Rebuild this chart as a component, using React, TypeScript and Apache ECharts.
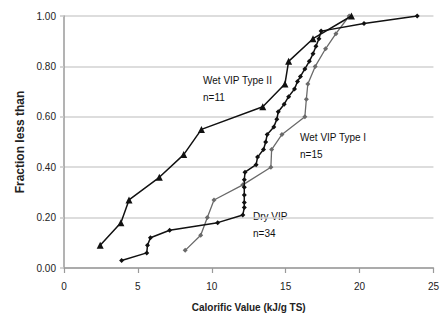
import React, { useEffect, useRef } from "react";
import * as echarts from "echarts";

const xTicks = [0, 5, 10, 15, 20, 25];
const yTicks = [0, 0.2, 0.4, 0.6, 0.8, 1.0];

const typeIIValue = [2.45, 3.85, 4.4, 6.45, 8.1, 9.3, 13.45, 14.95, 15.2, 16.85, 19.45];
const typeIIFrac = [0.09, 0.18, 0.27, 0.36, 0.45, 0.55, 0.64, 0.73, 0.82, 0.91, 1.0];

const typeIValue = [8.2, 9.25, 9.7, 10.15, 12.1, 14.0, 14.05, 14.75, 16.3, 16.4, 16.5, 17.0, 17.7, 18.4, 19.3];
const typeIFrac = [0.07, 0.13, 0.2, 0.27, 0.33, 0.4, 0.47, 0.53, 0.6, 0.67, 0.73, 0.8, 0.87, 0.93, 1.0];

const dryValue = [3.9, 5.6, 5.65, 5.85, 7.15, 10.4, 12.1, 12.2, 12.2, 12.2, 12.2, 12.2, 12.25, 13.0, 13.1, 13.5, 13.65, 13.75, 14.2, 14.4, 14.5, 14.9, 15.2, 15.6, 15.8, 16.0, 16.3, 16.6, 16.85, 17.05, 17.25, 17.4, 20.3, 23.9];
const dryFrac = [0.03, 0.06, 0.09, 0.12, 0.15, 0.18, 0.21, 0.24, 0.26, 0.29, 0.32, 0.35, 0.38, 0.41, 0.44, 0.47, 0.5, 0.53, 0.56, 0.59, 0.62, 0.65, 0.68, 0.71, 0.74, 0.76, 0.79, 0.82, 0.85, 0.88, 0.91, 0.94, 0.97, 1.0];

const labelTypeII = ["Wet VIP Type II", "n=11"];
const labelTypeI = ["Wet VIP Type I", "n=15"];
const labelDry = ["Dry VIP", "n=34"];

const pairs = (xs: number[], ys: number[]) => xs.map((x, i) => [x, ys[i]]);

const FONT = "'Liberation Sans', Arial, sans-serif";

export default function App() {
  const ref = useRef<HTMLDivElement>(null);
  useEffect(() => {
    document.body.style.margin = "0";
    const chart = echarts.init(ref.current!, null, { renderer: "svg" });
    const annot = (lines: string[], x: number, y: number) => ({
      type: "text",
      left: x,
      top: y,
      style: {
        text: lines.join("\n"),
        font: `10px ${FONT}`,
        fill: "#111",
        lineHeight: 17,
      },
    });
    chart.setOption({
      animation: false,
      backgroundColor: "#fff",
      grid: { left: 64, right: 3, top: 16, bottom: 57, containLabel: false },
      xAxis: {
        type: "value",
        min: xTicks[0],
        max: xTicks[xTicks.length - 1],
        interval: 5,
        name: "Calorific Value (kJ/g TS)",
        nameLocation: "middle",
        nameGap: 34,
        nameTextStyle: { fontFamily: FONT, fontSize: 10, fontWeight: "bold", color: "#222" },
        axisLine: { show: true, lineStyle: { color: "#9a9a9a", width: 1.5 } },
        axisTick: { show: true, length: 5, lineStyle: { color: "#9a9a9a", width: 1.2 } },
        axisLabel: {
          fontFamily: FONT,
          fontSize: 10,
          color: "#222",
          margin: 13,
          showMaxLabel: true,
          alignMaxLabel: "center",
        },
        splitLine: { show: false },
      },
      yAxis: {
        type: "value",
        min: yTicks[0],
        max: yTicks[yTicks.length - 1],
        interval: 0.2,
        name: "Fraction less than",
        nameLocation: "middle",
        nameGap: 32,
        nameTextStyle: { fontFamily: FONT, fontSize: 12, fontWeight: "bold", color: "#222" },
        axisLine: { show: true, lineStyle: { color: "#9a9a9a", width: 1.5 } },
        axisTick: { show: true, length: 4, lineStyle: { color: "#c8c8c8", width: 1.5 } },
        axisLabel: {
          fontFamily: FONT,
          fontSize: 10,
          color: "#222",
          margin: 8,
          formatter: (v: number) => v.toFixed(2),
        },
        splitLine: { show: true, lineStyle: { color: "#d2d2d2", width: 1.5 } },
      },
      series: [
        {
          name: "Wet VIP Type I",
          type: "line",
          data: pairs(typeIValue, typeIFrac),
          symbol: "diamond",
          symbolSize: 5,
          lineStyle: { color: "#6a6a6a", width: 1.3 },
          itemStyle: { color: "#6a6a6a" },
          z: 2,
        },
        {
          name: "Dry VIP",
          type: "line",
          data: pairs(dryValue, dryFrac),
          symbol: "diamond",
          symbolSize: 5,
          lineStyle: { color: "#111", width: 1.5 },
          itemStyle: { color: "#111" },
          z: 3,
        },
        {
          name: "Wet VIP Type II",
          type: "line",
          data: pairs(typeIIValue, typeIIFrac),
          symbol: "triangle",
          symbolSize: 7,
          lineStyle: { color: "#111", width: 1.5 },
          itemStyle: { color: "#111" },
          z: 4,
        },
      ],
      graphic: [
        annot(labelTypeII, 203, 72),
        annot(labelTypeI, 300, 129),
        annot(labelDry, 253, 208),
      ],
    });
    return () => chart.dispose();
  }, []);
  return <div ref={ref} style={{ width: 442, height: 325 }} />;
}
